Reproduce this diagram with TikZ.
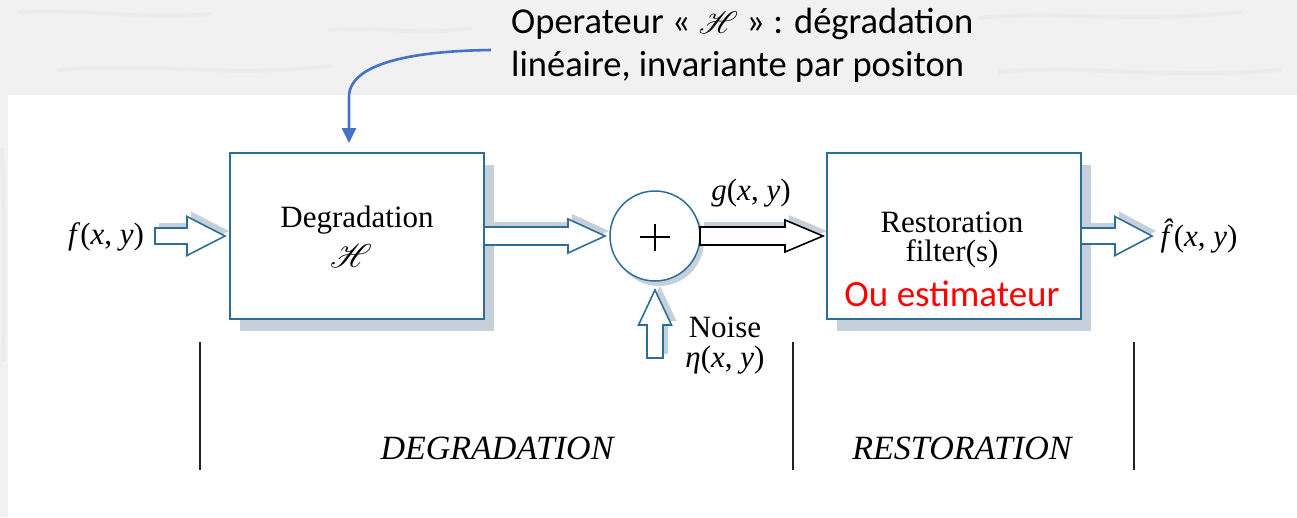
\documentclass[tikz,border=0pt]{standalone}
\usepackage{fontspec}
\usepackage{mathrsfs}
\usepackage{graphicx}
\setmainfont{Liberation Serif}
\newfontfamily\calib{Carlito}
\usetikzlibrary{arrows.meta,calc,shadows}

\definecolor{edge}{HTML}{2C6E96}
\definecolor{shade}{HTML}{C6D0DA}
\definecolor{callout}{HTML}{4472C4}
\definecolor{paper}{HTML}{F1F1F1}
\definecolor{streak}{HTML}{E9E9E9}
\definecolor{rule}{HTML}{222222}

% horizontal hollow block arrow: style, tail, tip, shaft half-width, head half-width, head length
\newcommand\rightblock[6]{%
  \path[#1] let \p1=(#2), \p2=(#3) in
    (\x1,\y2+#4) -- (\x2-#6,\y2+#4) -- (\x2-#6,\y2+#5) -- (\x2,\y2)
    -- (\x2-#6,\y2-#5) -- (\x2-#6,\y2-#4) -- (\x1,\y2-#4) -- cycle;}
% vertical (upward) hollow block arrow
\newcommand\upblock[6]{%
  \path[#1] let \p1=(#2), \p2=(#3) in
    (\x2-#4,\y1) -- (\x2-#4,\y2-#6) -- (\x2-#5,\y2-#6) -- (\x2,\y2)
    -- (\x2+#5,\y2-#6) -- (\x2+#4,\y2-#6) -- (\x2+#4,\y1) -- cycle;}
% script H at a fixed display size
\newcommand\opH[1][3.1]{{\fontsize{10}{12}\selectfont\scalebox{#1}{$\mathscr{H}$}}}

\tikzset{
  box/.style={draw=edge, line width=2pt, fill=white, minimum width=254pt,
    minimum height=166pt, inner sep=0pt,
    drop shadow={shadow xshift=10pt, shadow yshift=-12pt, fill=shade, opacity=1}},
  summer/.style={circle, draw=edge, line width=1.5pt, fill=white, minimum size=90pt,
    inner sep=0pt,
    drop shadow={shadow xshift=4pt, shadow yshift=-5pt, fill=shade, opacity=1}},
  serif/.style={inner sep=0pt, font=\fontsize{31}{32}\selectfont},
  sig/.style={inner sep=0pt, font=\fontsize{31}{33}\selectfont},
  stage/.style={inner sep=0pt, font=\itshape\fontsize{34}{36}\selectfont},
  note/.style={inner sep=0pt, font=\calib\fontsize{36.5}{43}\selectfont, align=left},
  arrowshadow/.style={fill=shade},
  bluearrow/.style={draw=edge, line width=1.6pt, fill=white, line join=miter},
  darkarrow/.style={draw=black, line width=1.6pt, fill=white, line join=miter},
  divider/.style={draw=rule, line width=1.8pt},
  calloutline/.style={draw=callout, line width=2.6pt,
    -{Triangle[length=15pt, width=14pt]}},
}

\begin{document}
\begin{tikzpicture}[x=1pt, y=-1pt]
  % paper with faint marbling, and the white panel
  \fill[paper] (0,0) rectangle (1297,517);
  \begin{scope}[streak, line width=4pt, line cap=round, opacity=0.7]
    \draw (20,12) .. controls (80,8) and (140,20) .. (210,14);
    \draw (60,70) .. controls (150,62) and (230,78) .. (330,66);
    \draw (330,30) .. controls (380,26) and (420,36) .. (470,28);
    \draw (980,18) .. controls (1060,10) and (1130,24) .. (1240,12);
    \draw (1000,72) .. controls (1090,64) and (1160,80) .. (1280,70);
    \draw (2,150) .. controls (4,200) and (5,280) .. (3,360);
  \end{scope}
  \fill[white] (8,95) rectangle (1297,517);
  \useasboundingbox (0,0) rectangle (1297,517);

  % coordinates of the free arrow ends
  \coordinate (fin) at (155,236);
  \coordinate (fintip) at (225,236);
  \coordinate (sumin) at (605,236);
  \coordinate (restin) at (823,236);
  \coordinate (fouttip) at (1152,236);
  \coordinate (noisetail) at (655,358);
  \coordinate (noisetip) at (655,290);
  \coordinate (gtail) at (700,236);
  \coordinate (degout) at (484,236);
  \coordinate (restout) at (1081,236);

  % shadows of the block arrows
  \rightblock{arrowshadow}{$(fin)+(4pt,5pt)$}{$(fintip)+(4pt,5pt)$}{8pt}{19.5pt}{38pt}
  \rightblock{arrowshadow}{$(degout)+(4pt,5pt)$}{$(sumin)+(4pt,5pt)$}{9pt}{17pt}{37pt}
  \rightblock{arrowshadow}{$(gtail)+(4pt,5pt)$}{$(restin)+(4pt,5pt)$}{9pt}{16pt}{38pt}
  \rightblock{arrowshadow}{$(restout)+(4pt,5pt)$}{$(fouttip)+(4pt,5pt)$}{8pt}{19.5pt}{37pt}
  \upblock{arrowshadow}{$(noisetail)+(5pt,4pt)$}{$(noisetip)+(5pt,4pt)$}{8pt}{16.5pt}{35pt}

  % blocks
  \node[box] (deg) at (357,236) {};
  \node[box] (rest) at (954,236) {};
  \node[summer] (sum) at (655,236) {};
  \draw[line width=2pt] (640,237) -- (670,237) (655,224) -- (655,251);

  % block texts
  \node[serif] (degt) at (357,220) {Degradation};
  \node[inner sep=0pt] (degh) at (351,256) {\opH[3.3]};
  \node[serif] (restt) at (952,222) {Restoration};
  \node[serif] (restf) at (952,254) {filter(s)};
  \node[inner sep=0pt, font=\calib\fontsize{37}{40}\selectfont, text=red] (esti) at (952,294) {Ou estimateur};

  % block arrows
  \rightblock{bluearrow}{fin}{fintip}{8pt}{19.5pt}{38pt}
  \rightblock{bluearrow}{degout}{sumin}{9pt}{17pt}{37pt}
  \rightblock{darkarrow}{gtail}{restin}{9pt}{16pt}{38pt}
  \rightblock{bluearrow}{restout}{fouttip}{8pt}{19.5pt}{37pt}
  \upblock{bluearrow}{noisetail}{noisetip}{8pt}{16.5pt}{35pt}

  % signals
  \node[sig] (f) at (106,237) {\textit{f}(\textit{x}, \textit{y})};
  \node[sig] (g) at (751,193) {\textit{g}(\textit{x}, \textit{y})};
  \node[sig] (fh) at (1199,236) {\textit{\^{f}}\kern-7pt(\textit{x}, \textit{y})};
  \node[sig, align=center] (noise) at (725,346) {Noise\\[-3pt]\textit{η}(\textit{x}, \textit{y})};

  % stage dividers
  \coordinate (d1t) at (200,342); \coordinate (d1b) at (200,470);
  \coordinate (d2t) at (793,342); \coordinate (d2b) at (793,470);
  \coordinate (d3t) at (1134,342); \coordinate (d3b) at (1134,470);
  \draw[divider] (d1t) -- (d1b);
  \draw[divider] (d2t) -- (d2b);
  \draw[divider] (d3t) -- (d3b);
  \node[stage] (sdeg) at (497,448) {DEGRADATION};
  \node[stage] (srest) at (962,448) {RESTORATION};

  % annotation on the operator
  \node[note, anchor=west] (op) at (511,45)
    {Operateur « \opH{} » : dégradation\\linéaire, invariante par positon};
  \coordinate (cstart) at (491,50);
  \coordinate (cbend) at (349,97);
  \coordinate (ctip) at (349,143);
  \draw[calloutline] (cstart) .. controls (410,51) and (349,64) .. (cbend) -- (ctip);
\end{tikzpicture}
\end{document}
